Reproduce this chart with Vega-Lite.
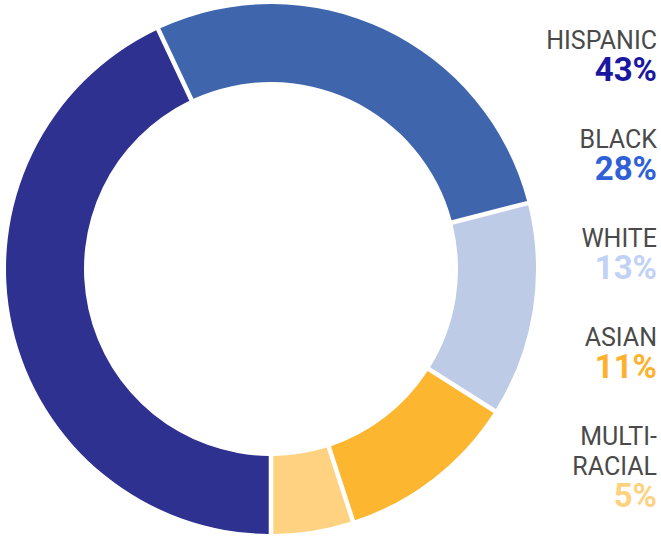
{
  "$schema": "https://vega.github.io/schema/vega-lite/v6.json",
  "padding": 0,
  "spacing": 0,
  "background": "white",
  "config": {"view": {"stroke": null}, "font": "Roboto"},
  "datasets": {
    "groups": [
      {"category": "Black", "share": 0.28, "seq": 1},
      {"category": "White", "share": 0.13, "seq": 2},
      {"category": "Asian", "share": 0.11, "seq": 3},
      {"category": "Multi-racial", "share": 0.05, "seq": 4},
      {"category": "Hispanic", "share": 0.43, "seq": 5}
    ],
    "lines": [
      {"category": "Hispanic", "line": 0, "kind": "name", "text": "HISPANIC"},
      {"category": "Hispanic", "line": 1, "kind": "pct", "text": "43%"},
      {"category": "Black", "line": 0, "kind": "name", "text": "BLACK"},
      {"category": "Black", "line": 1, "kind": "pct", "text": "28%"},
      {"category": "White", "line": 0, "kind": "name", "text": "WHITE"},
      {"category": "White", "line": 1, "kind": "pct", "text": "13%"},
      {"category": "Asian", "line": 0, "kind": "name", "text": "ASIAN"},
      {"category": "Asian", "line": 1, "kind": "pct", "text": "11%"},
      {"category": "Multi-racial", "line": 0, "kind": "name", "text": "MULTI-"},
      {"category": "Multi-racial", "line": 1, "kind": "name", "text": "RACIAL"},
      {"category": "Multi-racial", "line": 2, "kind": "pct", "text": "5%"}
    ]
  },
  "resolve": {"scale": {"color": "independent"}},
  "hconcat": [
    {
      "width": 542,
      "height": 538,
      "data": {"name": "groups"},
      "mark": {"type": "arc", "innerRadius": 187, "outerRadius": 265, "padAngle": 0.014},
      "encoding": {
        "theta": {"field": "share", "type": "quantitative", "stack": true, "scale": {"range": [-0.43982, 5.84336]}},
        "order": {"field": "seq", "type": "quantitative"},
        "color": {
          "field": "category",
          "type": "nominal",
          "legend": null,
          "scale": {
            "domain": ["Hispanic", "Black", "White", "Asian", "Multi-racial"],
            "range": ["#2e3190", "#3f66ad", "#bdcbe6", "#fdb630", "#fed281"]
          }
        }
      }
    },
    {
      "width": 119,
      "height": 538,
      "data": {"name": "lines"},
      "encoding": {
        "x": {"value": "width"},
        "y": {
          "field": "category",
          "type": "nominal",
          "axis": null,
          "scale": {"type": "band", "domain": ["Hispanic", "Black", "White", "Asian", "Multi-racial"], "paddingInner": 0, "paddingOuter": 0.217}
        },
        "yOffset": {
          "field": "line",
          "type": "ordinal",
          "scale": {"type": "point", "domain": [0, 1, 2], "padding": 0.65}
        },
        "text": {"field": "text", "type": "nominal"}
      },
      "layer": [
        {
          "transform": [{"filter": "datum.kind === 'name'"}],
          "mark": {"type": "text", "align": "right", "baseline": "middle", "dx": -4, "fontSize": 25, "font": "Roboto", "color": "#4a4a4a"}
        },
        {
          "transform": [{"filter": "datum.kind === 'pct'"}],
          "mark": {"type": "text", "align": "right", "baseline": "middle", "dx": -4, "fontSize": 33, "fontWeight": "bold", "font": "Roboto"},
          "encoding": {
            "color": {
              "field": "category",
              "type": "nominal",
              "legend": null,
              "scale": {
                "domain": ["Hispanic", "Black", "White", "Asian", "Multi-racial"],
                "range": ["#1a17a0", "#2f60d8", "#c2d2f4", "#fdb22e", "#fed27f"]
              }
            }
          }
        }
      ]
    }
  ]
}
